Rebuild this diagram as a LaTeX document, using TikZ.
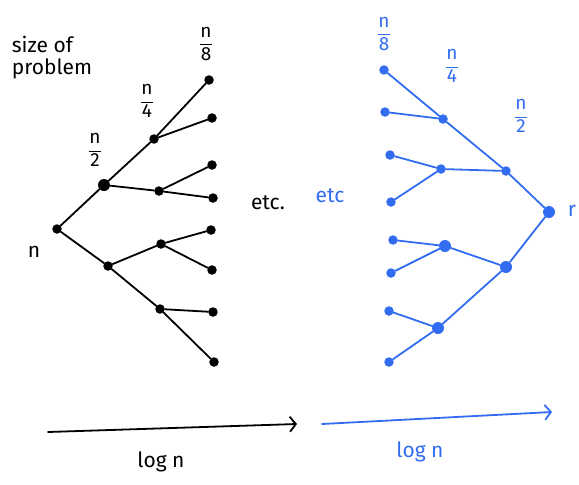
\documentclass[tikz,border=0pt]{standalone}
\usepackage{fontspec}
\setmainfont{Fira Sans}
\usetikzlibrary{arrows.meta}
\definecolor{pen}{RGB}{50,108,240}
\newcommand{\hfr}[2]{$\displaystyle\frac{\mbox{#1}}{\mbox{#2}}$}
\begin{document}
\begin{tikzpicture}[x=1pt,y=-1pt,
  dot/.style={circle,fill,inner sep=0pt,minimum size=9.5pt},
  bigdot/.style={circle,fill,inner sep=0pt,minimum size=12pt},
  edge/.style={line width=1.8pt,line cap=round},
  tip/.style={-{Straight Barb[length=6pt,width=15pt,line width=1.8pt]}},
  lbl/.style={font=\fontsize{21}{22}\selectfont,inner sep=1pt},
  frac/.style={font=\fontsize{19}{21}\selectfont,inner sep=1pt},
  blk/.style={black},
  blu/.style={pen,text=pen}]
\useasboundingbox (0,0) rectangle (579,485);
% ---------- black tree ----------
\begin{scope}[blk]
\node[dot] (r) at (57,229) {};
\node[bigdot] (a1) at (104,185) {};
\node[dot] (a2) at (108,266) {};
\node[dot] (b1) at (154,139) {};
\node[dot] (b2) at (159,191) {};
\node[dot] (b3) at (161,244) {};
\node[dot] (b4) at (160,309) {};
\node[dot] (c1) at (209,80) {};
\node[dot] (c2) at (212,118) {};
\node[dot] (c3) at (212,165) {};
\node[dot] (c4) at (213,198) {};
\node[dot] (c5) at (211,230) {};
\node[dot] (c6) at (212,270) {};
\node[dot] (c7) at (213,312) {};
\node[dot] (c8) at (214,362) {};
\draw[edge] (r) -- (a1); \draw[edge] (r) -- (a2);
\draw[edge] (a1) -- (b1); \draw[edge] (a1) -- (b2);
\draw[edge] (a2) -- (b3); \draw[edge] (a2) -- (b4);
\draw[edge] (b1) -- (c1); \draw[edge] (b1) -- (c2);
\draw[edge] (b2) -- (c3); \draw[edge] (b2) -- (c4);
\draw[edge] (b3) -- (c5); \draw[edge] (b3) -- (c6);
\draw[edge] (b4) -- (c7); \draw[edge] (b4) -- (c8);
\node[lbl] (ln) at (34,252) {n};
\node[lbl,align=left] (lsize) at (52,58) {size of\\problem};
\node[frac] (l2) at (95,150) {\hfr{n}{2}};
\node[frac] (l4) at (147,101) {\hfr{n}{4}};
\node[frac] (l8) at (206,44) {\hfr{n}{8}};
\node[lbl] (etc1) at (268,203) {etc.};
\coordinate (s1) at (48,432);
\coordinate (e1) at (297,424);
\draw[edge,tip] (s1) -- (e1);
\node[lbl] (log1) at (161,462) {log n};
\end{scope}
% ---------- blue tree ----------
\begin{scope}[blu]
\node[bigdot] (R) at (549,212) {};
\node[dot] (A1) at (506,171) {};
\node[bigdot] (A2) at (506,267) {};
\node[dot] (B1) at (443,119) {};
\node[dot] (B2) at (441,169) {};
\node[bigdot] (B3) at (445,246) {};
\node[bigdot] (B4) at (438,328) {};
\node[dot] (C1) at (384,70) {};
\node[dot] (C2) at (385,112) {};
\node[dot] (C3) at (390,155) {};
\node[dot] (C4) at (391,202) {};
\node[dot] (C5) at (393,240) {};
\node[dot] (C6) at (391,273) {};
\node[dot] (C7) at (389,311) {};
\node[dot] (C8) at (389,362) {};
\draw[edge] (R) -- (A1); \draw[edge] (R) -- (A2);
\draw[edge] (A1) -- (B1); \draw[edge] (A1) -- (B2);
\draw[edge] (A2) -- (B3); \draw[edge] (A2) -- (B4);
\draw[edge] (B1) -- (C1); \draw[edge] (B1) -- (C2);
\draw[edge] (B2) -- (C3); \draw[edge] (B2) -- (C4);
\draw[edge] (B3) -- (C5); \draw[edge] (B3) -- (C6);
\draw[edge] (B4) -- (C7); \draw[edge] (B4) -- (C8);
\node[lbl] (Lr) at (572,211) {r};
\node[frac] (L2) at (521,116) {\hfr{n}{2}};
\node[frac] (L4) at (452,66) {\hfr{n}{4}};
\node[frac] (L8) at (384,34) {\hfr{n}{8}};
\node[lbl] (etc2) at (330,196) {etc};
\coordinate (s2) at (322,424);
\coordinate (e2) at (552,412);
\draw[edge,tip] (s2) -- (e2);
\node[lbl] (log2) at (420,452) {log n};
\end{scope}
\end{tikzpicture}
\end{document}
